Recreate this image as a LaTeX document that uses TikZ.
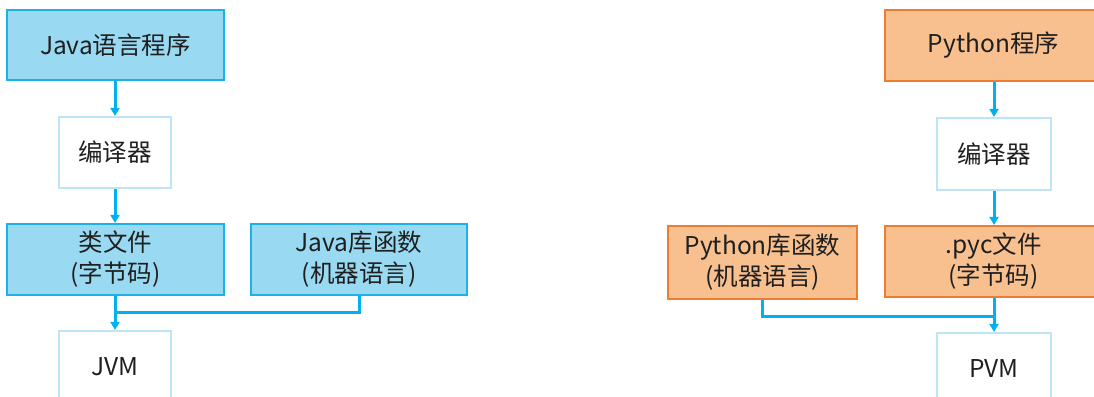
\documentclass[tikz,border=0pt]{standalone}
\usepackage{fontspec}
\newfontfamily\cjk{Noto Sans CJK SC}
\usetikzlibrary{arrows.meta}
\definecolor{bfill}{HTML}{99D9F2}
\definecolor{bline}{HTML}{1EB0E8}
\definecolor{ofill}{HTML}{F9C08F}
\definecolor{oline}{HTML}{ED7D31}
\definecolor{wline}{HTML}{BDE5F5}
\definecolor{arr}{HTML}{00B0F0}
\tikzset{
  box/.style={rectangle, line width=2.2pt, inner sep=0pt, align=center,
    font=\cjk\fontsize{24.5}{31}\selectfont, text=black!88},
  bluebox/.style={box, fill=bfill, draw=bline},
  orangebox/.style={box, fill=ofill, draw=oline},
  whitebox/.style={box, fill=white, draw=wline},
  flow/.style={draw=arr, line width=3pt, -{Triangle[length=8pt,width=9pt]}},
  link/.style={draw=arr, line width=3pt}
}
\begin{document}
\begin{tikzpicture}[x=1pt,y=-1pt]
\useasboundingbox (0,0) rectangle (1094,396);
\clip (0,0) rectangle (1094,396);
% Java side
\node[bluebox, minimum width=217pt, minimum height=70pt] (jprog) at (115.5,45) {Java语言程序};
\node[whitebox, minimum width=112pt, minimum height=71pt] (jcomp) at (115,152.5) {编译器};
\node[bluebox, minimum width=217pt, minimum height=71pt] (jclass) at (115.5,259.5) {类文件\\(字节码)};
\node[bluebox, minimum width=216pt, minimum height=71pt] (jlib) at (359,259.5) {Java库函数\\(机器语言)};
\node[whitebox, minimum width=112pt, minimum height=71pt] (jvm) at (115,366.5) {JVM};
\coordinate (jm) at (115,312);
\draw[flow] (jprog.south -| jcomp.north) -- (jcomp.north);
\draw[flow] (jcomp.south) -- (jcomp.south |- jclass.north);
\draw[flow] (jcomp.south |- jclass.south) -- (jvm.north);
\draw[link] (jlib.south) |- (jm);
% Python side
\node[orangebox, minimum width=217pt, minimum height=71pt] (pprog) at (993.5,45.5) {Python程序};
\node[whitebox, minimum width=114pt, minimum height=72pt] (pcomp) at (994,154) {编译器};
\node[orangebox, minimum width=189pt, minimum height=73pt] (plib) at (762.5,262.5) {Python库函数\\(机器语言)};
\node[orangebox, minimum width=217pt, minimum height=71pt] (pyc) at (993.5,261.5) {.pyc文件\\(字节码)};
\node[whitebox, minimum width=114pt, minimum height=71pt] (pvm) at (994,368.5) {PVM};
\coordinate (pm) at (994,316);
\draw[flow] (pprog.south -| pcomp.north) -- (pcomp.north);
\draw[flow] (pcomp.south) -- (pcomp.south |- pyc.north);
\draw[flow] (pcomp.south |- pyc.south) -- (pvm.north);
\draw[link] (plib.south) |- (pm);
\end{tikzpicture}
\end{document}
